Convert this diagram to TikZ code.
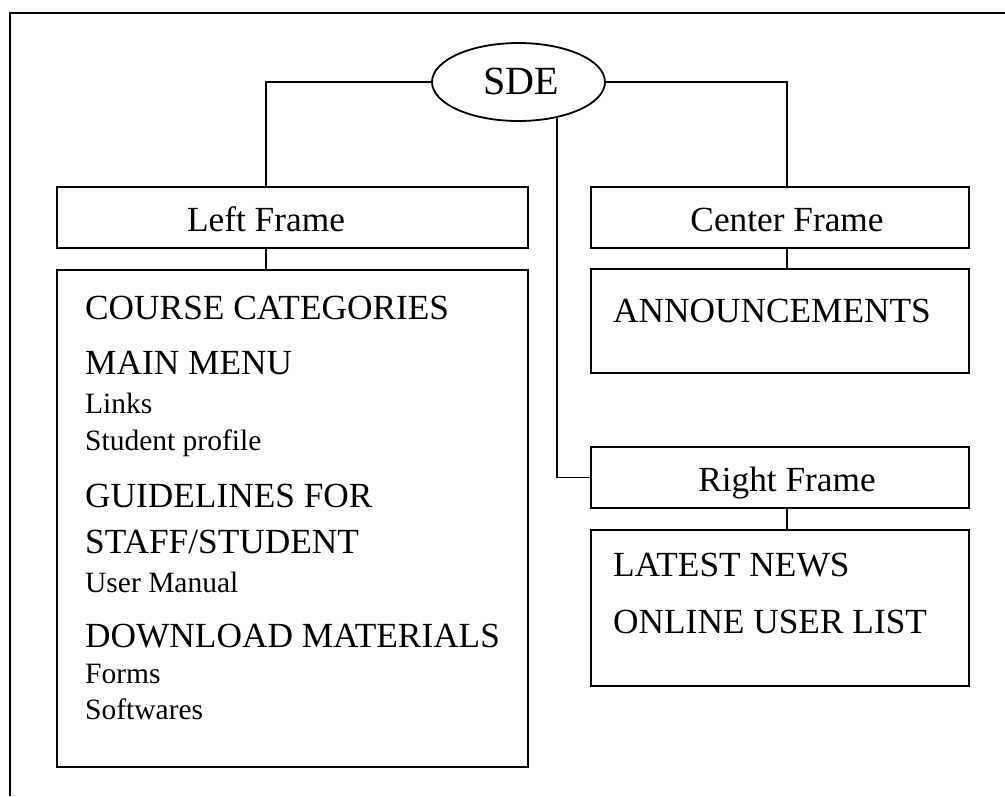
\documentclass[tikz,border=0pt]{standalone}
\usepackage{fontspec}
\setmainfont{Liberation Serif}
\usetikzlibrary{shapes.geometric}

\newcommand{\bigtxt}{\fontsize{35.3}{42}\selectfont}
\newcommand{\smalltxt}{\fontsize{29.5}{35}\selectfont}

\begin{document}
\begin{tikzpicture}[x=1pt,y=-1pt,
  framebox/.style={draw, line width=1.8pt, rectangle, inner sep=0pt},
  txt/.style={anchor=base west, inner sep=0pt, font=\bigtxt},
  subtxt/.style={anchor=base west, inner sep=0pt, font=\smalltxt},
  title/.style={anchor=base, inner sep=0pt, font=\bigtxt},
  link/.style={draw, line width=1.8pt}]

  % canvas
  \fill[white] (0,0) rectangle (1005,796);
  \useasboundingbox (0,0) rectangle (1005,796);

  % page border (top and left edges)
  \draw[line width=2.2pt] (10,796) -- (10,13) -- (1005,13);

  % root
  \node[draw, line width=1.8pt, ellipse, minimum width=173, minimum height=78, inner sep=0pt]
    (sde) at (518.5,82) {};
  \node[anchor=base, inner sep=0pt, font=\fontsize{40}{46}\selectfont] (sdel) at (521,94) {SDE};

  % frame headers
  \node[framebox, minimum width=471, minimum height=61] (lf) at (292.5,217.5) {};
  \node[framebox, minimum width=378, minimum height=61] (cf) at (780,217.5) {};
  \node[framebox, minimum width=378, minimum height=61] (rf) at (780,477.5) {};

  \node[title] (lfl) at (266,231) {Left Frame};
  \node[title] (cfl) at (787,231) {Center Frame};
  \node[title] (rfl) at (787,491) {Right Frame};

  % frame contents
  \node[framebox, minimum width=471, minimum height=497] (lc) at (292.5,518.5) {};
  \node[framebox, minimum width=378, minimum height=104] (cc) at (780,321) {};
  \node[framebox, minimum width=378, minimum height=156] (rc) at (780,608) {};

  % left frame entries
  \node[txt] (l1) at (85,319) {COURSE CATEGORIES};
  \node[txt] (l2) at (85,374) {MAIN MENU};
  \node[subtxt] (l3) at (85,413) {Links};
  \node[subtxt] (l4) at (85,450) {Student profile};
  \node[txt] (l5) at (85,507) {GUIDELINES FOR};
  \node[txt] (l6) at (85,553) {STAFF/STUDENT};
  \node[subtxt] (l7) at (85,592) {User Manual};
  \node[txt] (l8) at (85,647) {DOWNLOAD MATERIALS};
  \node[subtxt] (l9) at (85,683) {Forms};
  \node[subtxt] (l10) at (85,719) {Softwares};

  % center and right frame entries
  \node[txt] (c1) at (613,322) {ANNOUNCEMENTS};
  \node[txt] (r1) at (613,576) {LATEST NEWS};
  \node[txt] (r2) at (613,633) {ONLINE USER LIST};

  % connectors
  \draw[link] (sde.west) -| (lfl |- lf.north);
  \draw[link] (sde.east) -| (cfl |- cf.north);
  \draw[link] (sde.-43) |- (rf.west);
  \draw[link] (lfl |- lf.south) -- (lfl |- lc.north);
  \draw[link] (cfl |- cf.south) -- (cfl |- cc.north);
  \draw[link] (rfl |- rf.south) -- (rfl |- rc.north);
\end{tikzpicture}
\end{document}
